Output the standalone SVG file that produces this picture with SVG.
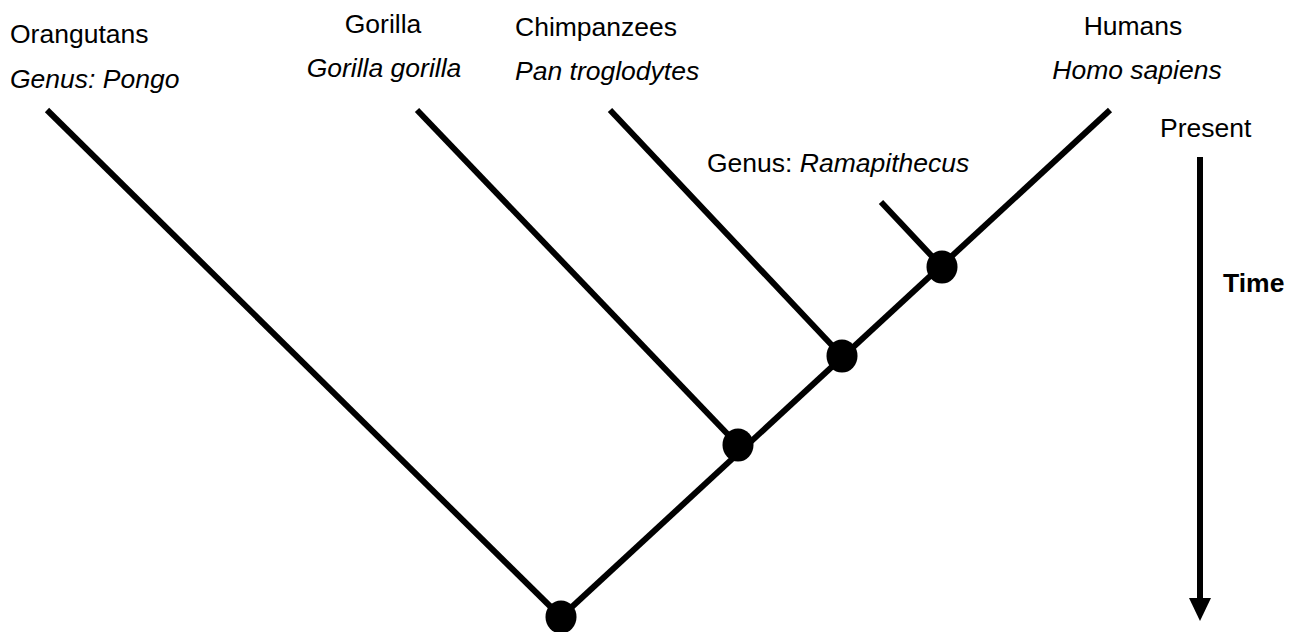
<svg xmlns="http://www.w3.org/2000/svg" width="1300" height="632" viewBox="0 0 1300 632">
<style>
text{font-family:"Liberation Sans",Arial,sans-serif;font-size:26.5px;fill:#000}
.i{font-style:italic}
.b{font-weight:bold}
.br{stroke:#000;stroke-width:6;fill:none;stroke-linecap:butt}
.dot{fill:#000}
</style>
<rect width="1300" height="632" fill="#fff"/>
<g id="connectors">
<line class="br" x1="47" y1="110" x2="561" y2="617"/>
<line class="br" x1="417" y1="110" x2="738" y2="445"/>
<line class="br" x1="610" y1="110" x2="842" y2="356"/>
<line class="br" x1="1110" y1="110" x2="561" y2="617"/>
<line class="br" x1="881" y1="202" x2="942" y2="267"/>
</g>
<g id="node-root"><ellipse class="dot" cx="561" cy="617" rx="15.5" ry="16.5"/></g>
<g id="node-gorilla-split"><ellipse class="dot" cx="738" cy="445" rx="15.5" ry="16.5"/></g>
<g id="node-chimp-split"><ellipse class="dot" cx="842" cy="356" rx="15.5" ry="16.5"/></g>
<g id="node-rama-split"><ellipse class="dot" cx="942" cy="267" rx="15.5" ry="16.5"/></g>
<g id="orangutans">
<text x="10" y="43">Orangutans</text>
<text class="i" x="10" y="88">Genus: Pongo</text>
</g>
<g id="gorilla">
<text x="383" y="33" text-anchor="middle">Gorilla</text>
<text class="i" x="384" y="77" text-anchor="middle">Gorilla gorilla</text>
</g>
<g id="chimpanzees">
<text x="515" y="36">Chimpanzees</text>
<text class="i" x="515" y="80">Pan troglodytes</text>
</g>
<g id="humans">
<text x="1133" y="35" text-anchor="middle">Humans</text>
<text class="i" x="1137" y="79" text-anchor="middle">Homo sapiens</text>
</g>
<g id="ramapithecus">
<text x="707" y="172">Genus: <tspan class="i">Ramapithecus</tspan></text>
</g>
<g id="time-axis">
<text x="1160" y="137">Present</text>
<line x1="1200" y1="157" x2="1200" y2="600" stroke="#000" stroke-width="6"/>
<polygon points="1189,598 1211,598 1200,621" fill="#000"/>
<text class="b" x="1223" y="292" font-size="24">Time</text>
</g>
</svg>
